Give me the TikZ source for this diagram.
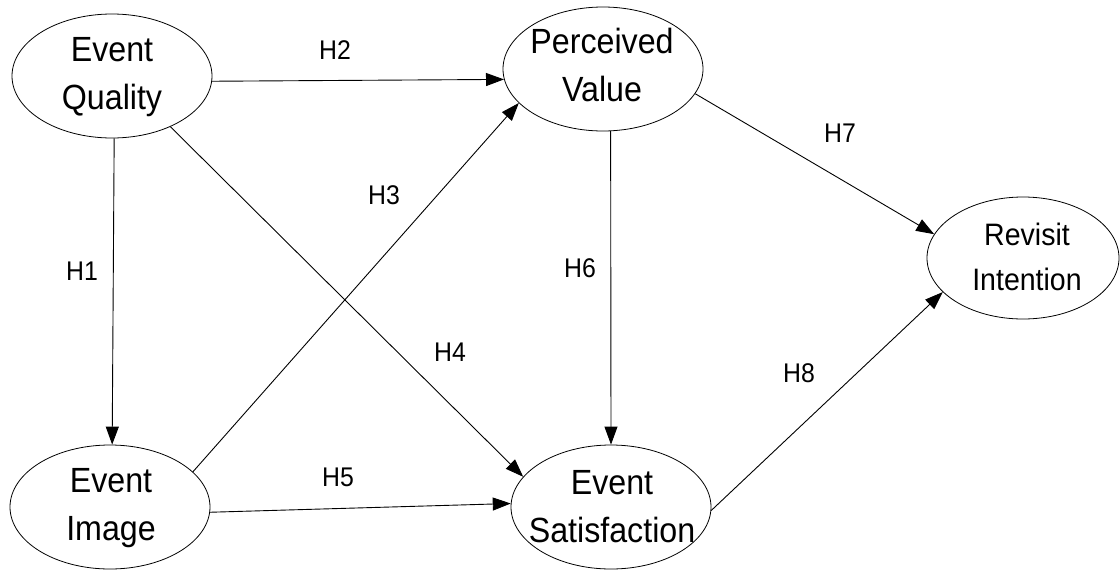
\documentclass[tikz,border=0pt]{standalone}
\usepackage{fontspec}
\setmainfont{Liberation Sans}[FakeStretch=0.92]
\usetikzlibrary{arrows.meta,shapes.geometric}
\tikzset{
  construct/.style={ellipse, draw, line width=0.8pt, inner sep=0pt,
    minimum width=200pt, minimum height=124pt},
  ctext/.style={anchor=north, inner sep=0pt, align=center,
    font=\fontsize{35}{48}\selectfont},
  ctextsmall/.style={anchor=north, inner sep=0pt, align=center,
    font=\fontsize{31}{45}\selectfont},
  hyp/.style={inner sep=0pt, font=\fontsize{27}{30}\selectfont},
  link/.style={draw, line width=0.9pt, -{Triangle[length=18pt,width=13pt]}}
}
\begin{document}
\begin{tikzpicture}[x=1pt,y=-1pt]
\useasboundingbox (0,0) rectangle (1120,571);
% constructs
\node[construct] (eq) at (112,76) {};
\node[construct] (pv) at (603,69) {};
\node[construct] (ei) at (110,507) {};
\node[construct] (es) at (611,507) {};
\node[construct, minimum width=192pt, minimum height=122pt] (ri) at (1023,258) {};
% construct texts
\node[ctext] (eqt) at (112,37.7) {Event\\Quality};
\node[ctext] (pvt) at (602,28) {Perceived\\Value};
\node[ctext] (eit) at (111,468) {Event\\Image};
\node[ctext] (est) at (612,470) {Event\\Satisfaction};
\node[ctextsmall] (rit) at (1027,223) {Revisit\\Intention};
% paths
\draw[link] (eq.272.8) -- (ei.88.2);
\draw[link] (eq.357.1) -- (pv.186.3);
\draw[link] (ei.23.4) -- (pv.202.6);
\draw[link] (eq.319.7) -- (es.161.3);
\draw[link] (ei.357.7) -- (es.178.3);
\draw[link] (pv.277.4) -- (es.90.9);
\draw[link] (pv.345.9) -- (ri.165.1);
\draw[link] (es.358.3) -- (ri.203.4);
% hypothesis labels
\node[hyp] (h1) at (82,271) {H1};
\node[hyp] (h2) at (335,50) {H2};
\node[hyp] (h3) at (384,195.5) {H3};
\node[hyp] (h4) at (450,352) {H4};
\node[hyp] (h5) at (338,477) {H5};
\node[hyp] (h6) at (580,268) {H6};
\node[hyp] (h7) at (840,133) {H7};
\node[hyp] (h8) at (799,373) {H8};
\end{tikzpicture}
\end{document}
